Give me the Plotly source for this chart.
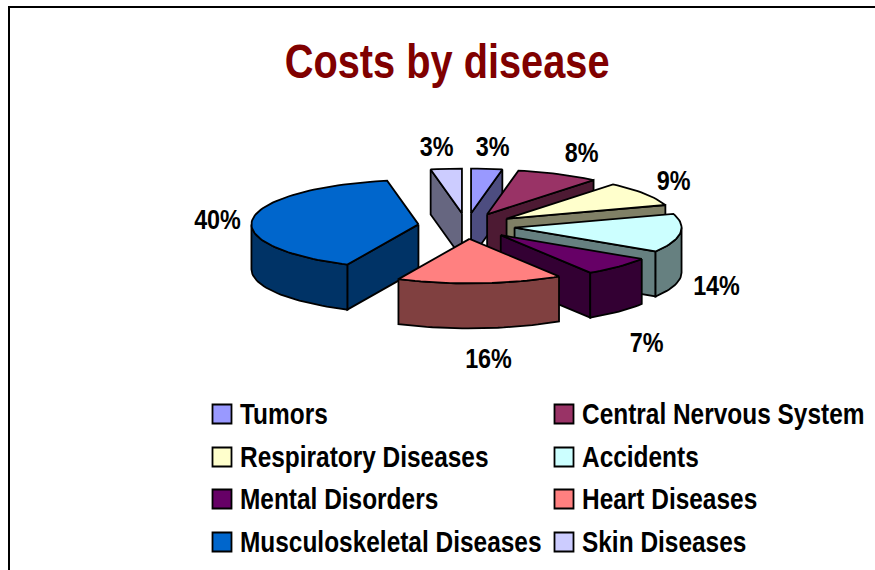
import math
import plotly.graph_objects as go

# ---- data ----
categories = ["Tumors", "Central Nervous System", "Respiratory Diseases", "Accidents",
              "Mental Disorders", "Heart Diseases", "Musculoskeletal Diseases", "Skin Diseases"]
shares = [3, 8, 9, 14, 7, 16, 40, 3]
top_colors = ["#9999FF", "#993366", "#FFFFCC", "#CCFFFF", "#660066", "#FF8080", "#0066CC", "#CCCCFF"]
side_colors = ["#4D4D80", "#4D1A33", "#808066", "#668080", "#330033", "#804040", "#003366", "#666680"]
title_text = "Costs by disease"

# ---- layout constants (pixels in the 875x570 page) ----
W, H = 875, 570
CX, CY = 466.5, 226.0
RX, RY = 167.0, 44.5
DEPTH = 45.0
EXPLODE = 0.29
FONT = "Liberation Sans, Arial, sans-serif"
DRAW_ORDER = [7, 0, 1, 2, 3, 4, 6, 5]
LABEL_POS = [(492, 146), (581, 152), (673, 180), (716, 285), (646, 342), (488, 358), (217, 219), (436, 146)]
LEG_X = [222, 564]
LEG_Y = [414, 457, 499, 542]


def pt(ax, ay, deg, r=1.0):
    t = math.radians(deg)
    return ax + r * RX * math.sin(t), ay - r * RY * math.cos(t)


def arc(ax, ay, a0, a1):
    n = max(2, int(abs(a1 - a0) / 2))
    return [pt(ax, ay, a0 + (a1 - a0) * i / n) for i in range(n + 1)]


def poly(fig, pts, color, name):
    xs = [p[0] for p in pts] + [pts[0][0]]
    ys = [p[1] for p in pts] + [pts[0][1]]
    fig.add_trace(go.Scatter(x=xs, y=ys, mode="lines", fill="toself", fillcolor=color,
                             line=dict(color="black", width=1.8), name=name,
                             hoverinfo="name", showlegend=False))


fig = go.Figure()
total = sum(shares)
edges = [0.0]
for v in shares:
    edges.append(edges[-1] + 360.0 * v / total)

for i in DRAW_ORDER:
    a0, a1 = edges[i], edges[i + 1]
    mid = (a0 + a1) / 2
    ax, ay = pt(CX, CY, mid, EXPLODE)
    down = lambda p: (p[0], p[1] + DEPTH)
    apex = (ax, ay)
    name = categories[i]
    if math.sin(math.radians(a0)) < 0:
        e = pt(ax, ay, a0)
        poly(fig, [apex, e, down(e), down(apex)], side_colors[i], name)
    if math.sin(math.radians(a1)) > 0:
        e = pt(ax, ay, a1)
        poly(fig, [apex, e, down(e), down(apex)], side_colors[i], name)
    lo, hi = max(a0, 90.0), min(a1, 270.0)
    if hi > lo:
        rim = arc(ax, ay, lo, hi)
        poly(fig, rim + [down(p) for p in reversed(rim)], side_colors[i], name)
    poly(fig, [apex] + arc(ax, ay, a0, a1), top_colors[i], name)

annotations = [dict(x=447, y=61, text=title_text, showarrow=False,
                    font=dict(family=FONT, size=48.5, weight=700, color="#800000"))]
for v, (lx, ly) in zip(shares, LABEL_POS):
    annotations.append(dict(x=lx, y=ly, text=f"{v}%", showarrow=False,
                            font=dict(family=FONT, size=28.5, weight=700, color="black")))

for i, name in enumerate(categories):
    mx, my = LEG_X[i % 2], LEG_Y[i // 2]
    fig.add_trace(go.Scatter(x=[mx], y=[my], mode="markers", name=name, showlegend=False,
                             hoverinfo="name",
                             marker=dict(symbol="square", size=19, color=top_colors[i],
                                         line=dict(color="black", width=1.8))))
    annotations.append(dict(x=mx + 16, y=my - 0.5, text=name, showarrow=False, xanchor="left",
                            font=dict(family=FONT, size=29.8, weight=700, color="black")))

fig.update_layout(
    width=W, height=H, autosize=False,
    margin=dict(l=0, r=0, t=0, b=0),
    paper_bgcolor="white", plot_bgcolor="white",
    showlegend=False,
    xaxis=dict(range=[0, W], visible=False, fixedrange=True),
    yaxis=dict(range=[H, 0], visible=False, fixedrange=True),
    annotations=annotations,
    shapes=[dict(type="rect", xref="x", yref="y", x0=9, y0=7, x1=W + 20, y1=H + 20,
                 line=dict(color="black", width=2), layer="below")],
)

# Page margin off; annotation text condensed to the narrow face of the reference.
post = """
document.body.style.margin = '0';
var gd = document.getElementById('{plot_id}');
gd.querySelectorAll('.annotation').forEach(function (a) {
  var t = a.querySelector('text');
  if (!t) return;
  var b = t.getBBox();
  var idx = parseInt(a.getAttribute('data-index'));
  var ax = idx >= 9 ? b.x : b.x + b.width / 2;
  var old = t.getAttribute('transform') || '';
  t.setAttribute('transform', old + ' translate(' + ax + ',0) scale(0.82,1) translate(' + (-ax) + ',0)');
});
"""
fig.write_html("out.html", config={"displayModeBar": False}, post_script=post)
